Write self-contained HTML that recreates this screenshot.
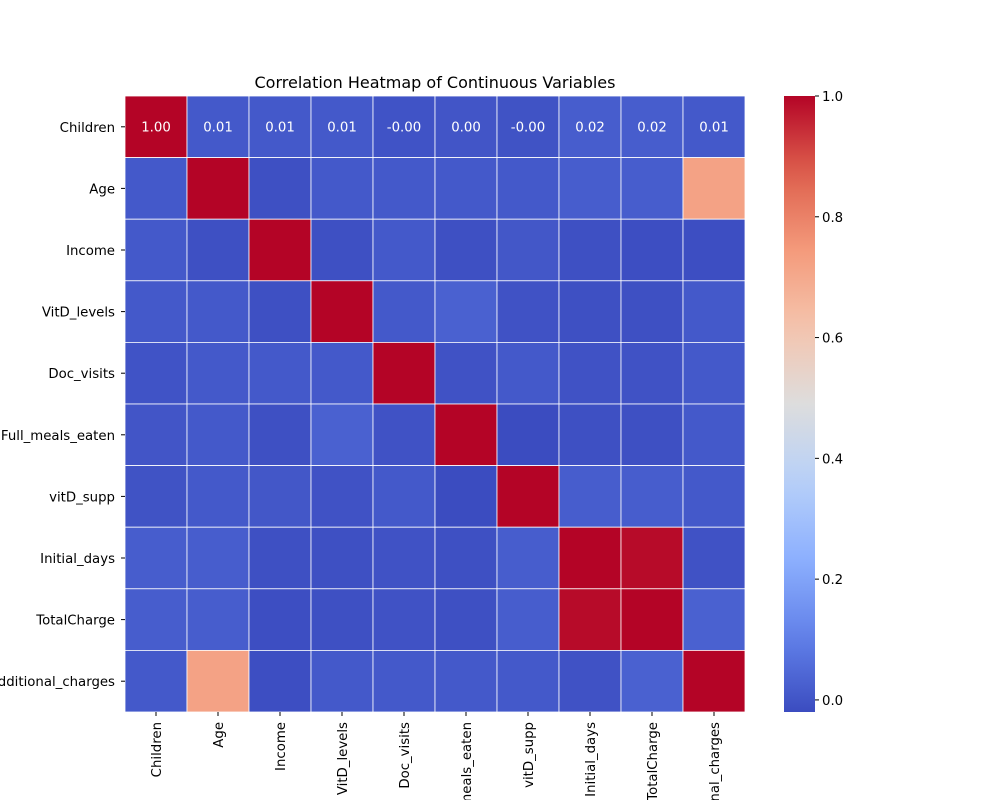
<!DOCTYPE html>
<html style="width:1000px;height:800px;overflow:hidden;"><head><meta charset="utf-8"><style>
html,body{margin:0;padding:0;background:#fff;overflow:hidden;width:1000px;height:800px;}
#wrap{position:relative;width:1000px;height:800px;overflow:hidden;}
svg{display:block;overflow:hidden;}
svg text{font-family:"DejaVu Sans","Liberation Sans",sans-serif;}
</style></head><body>
<div id="wrap">
<svg id="c" width="1000" height="800" viewBox="0 0 1000 800">
<defs>
<linearGradient id="cbg" x1="0" y1="1" x2="0" y2="0"></linearGradient>
<clipPath id="frame"><rect x="0" y="0" width="1000" height="800"/></clipPath>
</defs>
<text x="435" y="88" font-size="16" text-anchor="middle" fill="#000">Correlation Heatmap of Continuous Variables</text>
<g id="cells"></g>
<g id="ylab"></g>
<g id="xlab" clip-path="url(#frame)"></g>
<g id="cbar"></g>
</svg>
</div>
<script>
const variables=["Children","Age","Income","VitD_levels","Doc_visits","Full_meals_eaten","vitD_supp","Initial_days","TotalCharge","Additional_charges"];
const rowChildren=[1,0.01,0.01,0.01,-0.003,0.002,-0.004,0.02,0.02,0.01];
const rowAge=[0.01,1,-0.01,0.01,0.01,0.01,0.01,0.02,0.02,0.72];
const rowIncome=[0.01,-0.01,1,-0.01,0.01,-0.01,0.005,-0.01,-0.015,-0.015];
const rowVitD=[0.01,0.01,-0.01,1,0.01,0.03,-0.005,-0.01,-0.01,0.01];
const rowDoc=[-0.003,0.01,0.01,0.01,1,-0.005,0.01,-0.005,-0.005,0.01];
const rowMeals=[0.002,0.01,-0.01,0.03,-0.005,1,-0.02,-0.01,-0.01,0.01];
const rowSupp=[-0.004,0.01,0.005,-0.005,0.01,-0.02,1,0.02,0.02,0.01];
const rowInitial=[0.02,0.02,-0.01,-0.01,-0.005,-0.01,0.02,1,0.99,-0.005];
const rowTotal=[0.02,0.02,-0.015,-0.01,-0.005,-0.01,0.02,0.99,1,0.03];
const rowAdditional=[0.01,0.72,-0.015,0.01,0.01,0.01,0.01,-0.005,0.03,1];
const matrix=[rowChildren,rowAge,rowIncome,rowVitD,rowDoc,rowMeals,rowSupp,rowInitial,rowTotal,rowAdditional];
const cbTicks=[0.0,0.2,0.4,0.6,0.8,1.0];
const vmin=-0.02,vmax=1.0;
const stops=[[59,76,192],[98,130,234],[141,176,254],[184,208,249],[221,221,221],[245,196,173],[244,154,123],[222,96,77],[180,4,38]];
function cmap(v){let t=(v-vmin)/(vmax-vmin);t=Math.max(0,Math.min(1,t));const p=t*8,i=Math.min(7,Math.floor(p)),f=p-i;
const a=stops[i],b=stops[i+1];return `rgb(${a.map((x,k)=>Math.round(x+(b[k]-x)*f)).join(',')})`;}
const NS="http://www.w3.org/2000/svg";
function mk(tag,attrs,parent){const e=document.createElementNS(NS,tag);for(const k in attrs)e.setAttribute(k,attrs[k]);parent.appendChild(e);return e;}
const L=125,T=96,W=620,H=616,n=variables.length,cw=W/n,ch=H/n;
const xs=j=>L+j*cw, ys=i=>T+i*ch;
const cells=document.getElementById('cells');
matrix.forEach((row,i)=>row.forEach((v,j)=>{
 const r=mk('rect',{x:xs(j),y:ys(i),width:cw,height:ch,fill:cmap(v),stroke:'#fff','stroke-width':0.8},cells);
 
 
 if(i===0){const t=mk('text',{x:xs(j)+cw/2,y:ys(i)+ch/2+4.5,'font-size':13.3,'text-anchor':'middle',fill:'#fff'},cells);
 t.textContent=v.toFixed(2);
 
 }
}));
const yl=document.getElementById('ylab'),xl=document.getElementById('xlab');
variables.forEach((name,i)=>{
 const cy=ys(i)+ch/2;
 mk('line',{x1:L-4,x2:L,y1:cy,y2:cy,stroke:'#000'},yl);
 const t=mk('text',{x:L-10,y:cy+5,'font-size':13.3,'text-anchor':'end'},yl);t.textContent=name;
 
 
 const cx=xs(i)+cw/2;
 mk('line',{x1:cx,x2:cx,y1:T+H,y2:T+H+4,stroke:'#000'},xl);
 const u=mk('text',{x:0,y:0,'font-size':13.3,'text-anchor':'end',transform:`translate(${cx+5},${T+H+10}) rotate(-90)`},xl);u.textContent=name;
 
 
});
const g=document.getElementById('cbg');
for(let k=0;k<=20;k++){const v=vmin+(vmax-vmin)*k/20;mk('stop',{offset:k/20,'stop-color':cmap(v)},g);}
const cb=document.getElementById('cbar');
const CX=784,CW=31;const cyv=v=>T+H-(v-vmin)/(vmax-vmin)*H;
mk('rect',{x:CX,y:T,width:CW,height:H,fill:'url(#cbg)'},cb);
cbTicks.forEach(v=>{const y=cyv(v);
 mk('line',{x1:CX+CW,x2:CX+CW+4,y1:y,y2:y,stroke:'#000'},cb);
 const t=mk('text',{x:CX+CW+7,y:y+5,'font-size':13.3},cb);t.textContent=v.toFixed(1);
 
 });
</script>
</body></html>
